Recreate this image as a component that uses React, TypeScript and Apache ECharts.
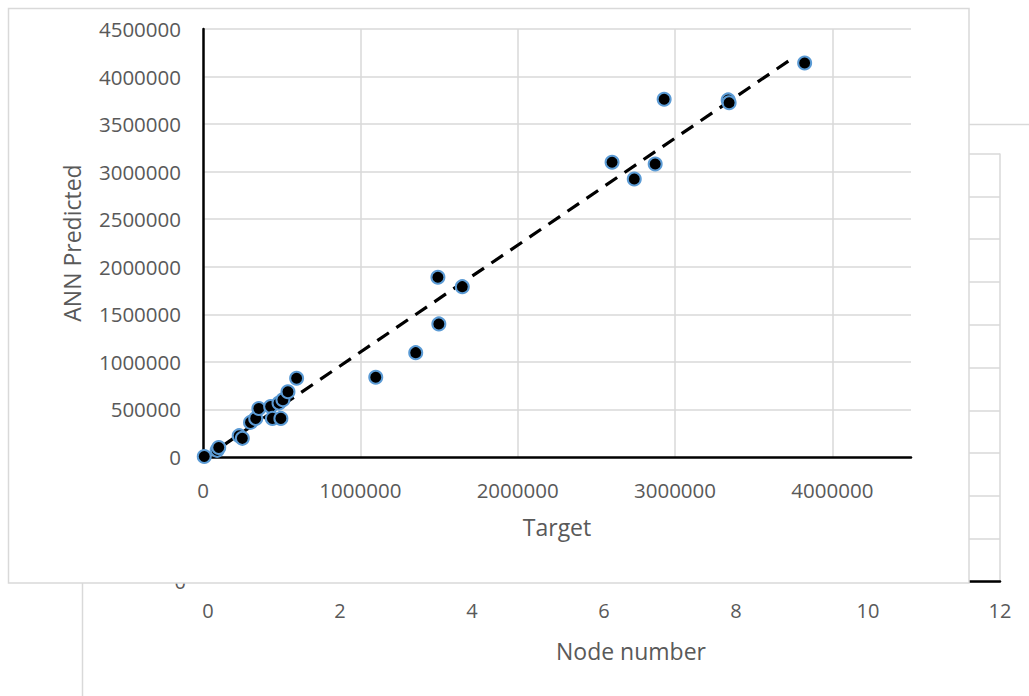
import React, { useEffect, useRef } from "react";
import * as echarts from "echarts";

// Foreground chart: ANN predicted vs target
const targetValues = [
  8000, 90000, 100000, 230000, 250000, 302000, 335000, 355000, 430000, 441000,
  495000, 483000, 508000, 540000, 595000, 1098000, 1352000, 1499000, 1493000,
  1648000, 2600000, 2741000, 2874000, 2931000, 3338000, 3344000, 3824000,
];
const predictedValues = [
  5000, 70000, 100000, 224000, 196000, 364000, 406000, 510000, 530000, 406000,
  406000, 567000, 602000, 686000, 828000, 838000, 1097000, 1399000, 1890000,
  1791000, 3099000, 2923000, 3081000, 3761000, 3754000, 3725000, 4143000,
];
const fitLineX = [20000, 3745000];
const fitLineY = [0, 4190000];

// Background chart (partly hidden): node number axis
const nodeAxisMin = 0;
const nodeAxisMax = 12;
const nodeAxisStep = 2;
const nodeValueMin = 0;
const nodeValueMax = 10;
const nodeValueStep = 1;

const FONT = "'Open Sans', 'Noto Sans', sans-serif";
const TXT = "#595959";
const GRID = "#d9d9d9";

const plain = (v: number) => String(Math.round(v));

export default function App() {
  const ref = useRef<HTMLDivElement>(null);
  useEffect(() => {
    if (!ref.current) return;
    const chart = echarts.init(ref.current, null, { renderer: "svg" });
    const scatterData = targetValues.map((t, i) => [t, predictedValues[i]]);
    const lineData = fitLineX.map((x, i) => [x, fitLineY[i]]);
    chart.setOption({
      animation: false,
      backgroundColor: "#ffffff",
      textStyle: { fontFamily: FONT },
      graphic: [
        {
          type: "rect",
          z: 1,
          shape: { x: 82.5, y: 124.5, width: 1100, height: 700 },
          style: { fill: "none", stroke: GRID, lineWidth: 1.5 },
          silent: true,
        },
        {
          type: "rect",
          z: 15,
          shape: { x: 8.5, y: 8.5, width: 960.5, height: 574.5 },
          style: { fill: "#ffffff", stroke: GRID, lineWidth: 1.5 },
          silent: true,
        },
      ],
      grid: [
        { left: 208, top: 153.5, width: 792, height: 428 },
        { left: 203, top: 29, width: 708, height: 428 },
      ],
      xAxis: [
        {
          type: "value",
          gridIndex: 0,
          min: nodeAxisMin,
          max: nodeAxisMax,
          interval: nodeAxisStep,
          name: "Node number",
          nameLocation: "middle",
          nameGap: 58,
          nameTextStyle: { color: TXT, fontSize: 23, fontFamily: FONT, padding: [0, 0, 0, 54] },
          axisLine: { show: true, lineStyle: { color: "#000000", width: 2.5 } },
          axisTick: { show: false },
          axisLabel: { color: TXT, fontSize: 20, fontFamily: FONT, margin: 19, formatter: plain },
          splitLine: { show: true, lineStyle: { color: GRID, width: 1.5 } },
        },
        {
          type: "value",
          gridIndex: 1,
          z: 20,
          min: 0,
          max: 4500000,
          interval: 1000000,
          name: "Target",
          nameLocation: "middle",
          nameGap: 58,
          nameTextStyle: { color: TXT, fontSize: 23, fontFamily: FONT },
          axisLine: { show: true, onZero: false, lineStyle: { color: "#000000", width: 2.5 } },
          axisTick: { show: false },
          axisLabel: {
            color: TXT,
            fontSize: 20.5,
            fontFamily: FONT,
            margin: 22,
            showMaxLabel: false,
            formatter: plain,
          },
          splitLine: {
            show: true,
            showMinLine: false,
            showMaxLine: false,
            lineStyle: { color: GRID, width: 1.5 },
          },
        },
      ],
      yAxis: [
        {
          type: "value",
          gridIndex: 0,
          min: nodeValueMin,
          max: nodeValueMax,
          interval: nodeValueStep,
          axisLine: { show: false },
          axisTick: { show: false },
          axisLabel: {
            color: TXT,
            fontSize: 20,
            fontFamily: FONT,
            margin: 22,
            formatter: (v: number) => (v === 0 ? "0" : ""),
          },
          splitLine: { show: true, lineStyle: { color: GRID, width: 1.5 } },
        },
        {
          type: "value",
          gridIndex: 1,
          z: 20,
          min: 0,
          max: 4500000,
          interval: 500000,
          name: "ANN Predicted",
          nameLocation: "middle",
          nameGap: 120,
          nameTextStyle: { color: TXT, fontSize: 23, fontFamily: FONT },
          axisLine: { show: true, onZero: false, lineStyle: { color: "#000000", width: 2.5 } },
          axisTick: { show: false },
          axisLabel: { color: TXT, fontSize: 20.5, fontFamily: FONT, margin: 22, formatter: plain },
          splitLine: { show: true, showMinLine: false, lineStyle: { color: GRID, width: 1.5 } },
        },
      ],
      series: [
        {
          type: "scatter",
          xAxisIndex: 0,
          yAxisIndex: 0,
          data: [],
          silent: true,
        },
        {
          type: "line",
          xAxisIndex: 1,
          yAxisIndex: 1,
          z: 21,
          data: lineData,
          showSymbol: false,
          symbol: "none",
          silent: true,
          lineStyle: { color: "#000000", width: 3.2, type: [14, 9] },
        },
        {
          type: "scatter",
          xAxisIndex: 1,
          yAxisIndex: 1,
          z: 22,
          data: scatterData,
          symbol: "circle",
          symbolSize: 13,
          silent: true,
          itemStyle: { color: "#000000", borderColor: "#5b9bd5", borderWidth: 2, opacity: 1 },
        },
      ],
    });
    return () => chart.dispose();
  }, []);
  return (
    <div
      ref={ref}
      style={{ position: "absolute", left: 0, top: 0, width: 1029, height: 696 }}
    />
  );
}
